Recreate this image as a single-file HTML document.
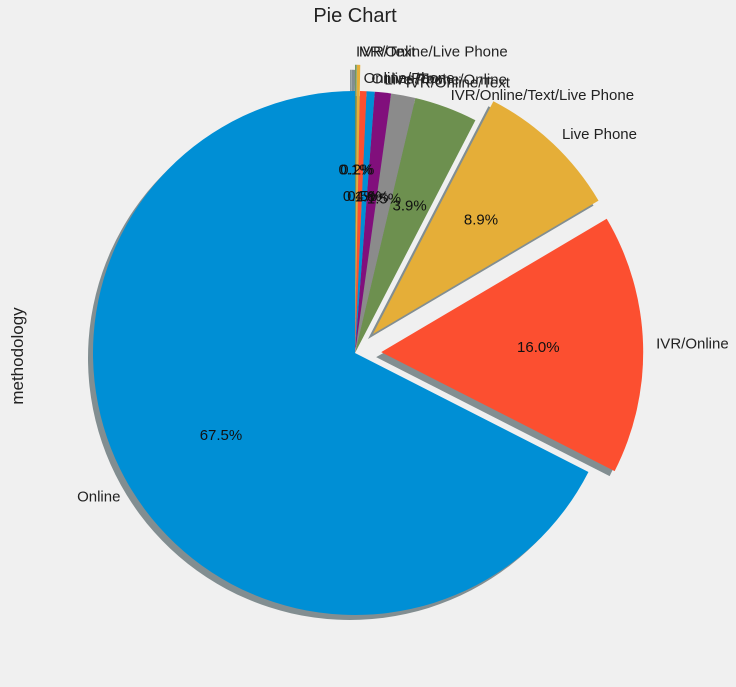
<!DOCTYPE html>
<html><head><meta charset="utf-8"><style>
html,body{margin:0;padding:0;background:#f0f0f0;}
svg{display:block;font-family:"Liberation Sans","DejaVu Sans",sans-serif;}
</style></head><body>
<svg id="chart" width="736" height="687" viewBox="0 0 736 687" xmlns="http://www.w3.org/2000/svg">
<rect width="736" height="687" fill="#f0f0f0"/>
<text x="355" y="22" text-anchor="middle" font-size="20" fill="#222">Pie Chart</text>
<text transform="translate(23,356) rotate(-90)" text-anchor="middle" font-size="17" fill="#222">methodology</text>
<g id="shadows"></g><g id="slices"></g><g id="labels"></g>
</svg>
<script>
const categories=["Online","IVR/Online","Live Phone","IVR/Online/Text/Live Phone","IVR/Online/Text","Live Phone/Online","Online/Text","Online/Phone","IVR/Text","IVR/Online/Live Phone"];
const values=[67.5,16.0,8.9,3.9,1.5,1.0,0.5,0.4,0.2,0.1];
const explode=[0,0.1,0.1,0,0,0,0,0,0.1,0.1];
const colors=["#008fd5","#fc4f30","#e5ae38","#6d904f","#8b8b8b","#810f7c","#008fd5","#fc4f30","#e5ae38","#6d904f"];
const cx=355,cy=353,R=262;
const NS="http://www.w3.org/2000/svg";
const total=values.reduce((a,b)=>a+b,0);
const sg=document.getElementById('shadows'),pg=document.getElementById('slices'),lg=document.getElementById('labels');
function pt(a,r,ox,oy){return [ox+r*Math.cos(a),oy-r*Math.sin(a)];}
let start=Math.PI/2;
values.forEach((v,i)=>{
  const sweep=v/total*2*Math.PI,end=start+sweep,mid=start+sweep/2;
  const ox=cx+explode[i]*R*Math.cos(mid),oy=cy-explode[i]*R*Math.sin(mid);
  const mk=(dx,dy)=>{const p1=pt(start,R,ox+dx,oy+dy),p2=pt(end,R,ox+dx,oy+dy);
    return `M${ox+dx},${oy+dy}L${p1[0]},${p1[1]}A${R},${R} 0 ${sweep>Math.PI?1:0} 0 ${p2[0]},${p2[1]}Z`;};
  const s=document.createElementNS(NS,'path');
  s.setAttribute('d',mk(-5,5));s.setAttribute('fill','#5d6d72');s.setAttribute('opacity','0.75');
  
  
  sg.appendChild(s);
  const p=document.createElementNS(NS,'path');
  p.setAttribute('d',mk(0,0));p.setAttribute('fill',colors[i]);
  
  
  pg.appendChild(p);
  const lp=pt(mid,R*1.05,ox,oy);
  const t=document.createElementNS(NS,'text');
  t.setAttribute('x',lp[0]);t.setAttribute('y',lp[1]+5);
  t.setAttribute('text-anchor',Math.cos(mid)>=0?'start':'end');
  t.setAttribute('font-size','15');t.setAttribute('fill','#222');
  t.textContent=categories[i];
  
  
  lg.appendChild(t);
  const pp=pt(mid,R*0.6,ox,oy);
  const q=document.createElementNS(NS,'text');
  q.setAttribute('x',pp[0]);q.setAttribute('y',pp[1]+5);
  q.setAttribute('text-anchor','middle');q.setAttribute('font-size','15');q.setAttribute('fill','#111');
  q.textContent=v.toFixed(1)+'%';
  
  
  lg.appendChild(q);
  start=end;
});
</script>
</body></html>
